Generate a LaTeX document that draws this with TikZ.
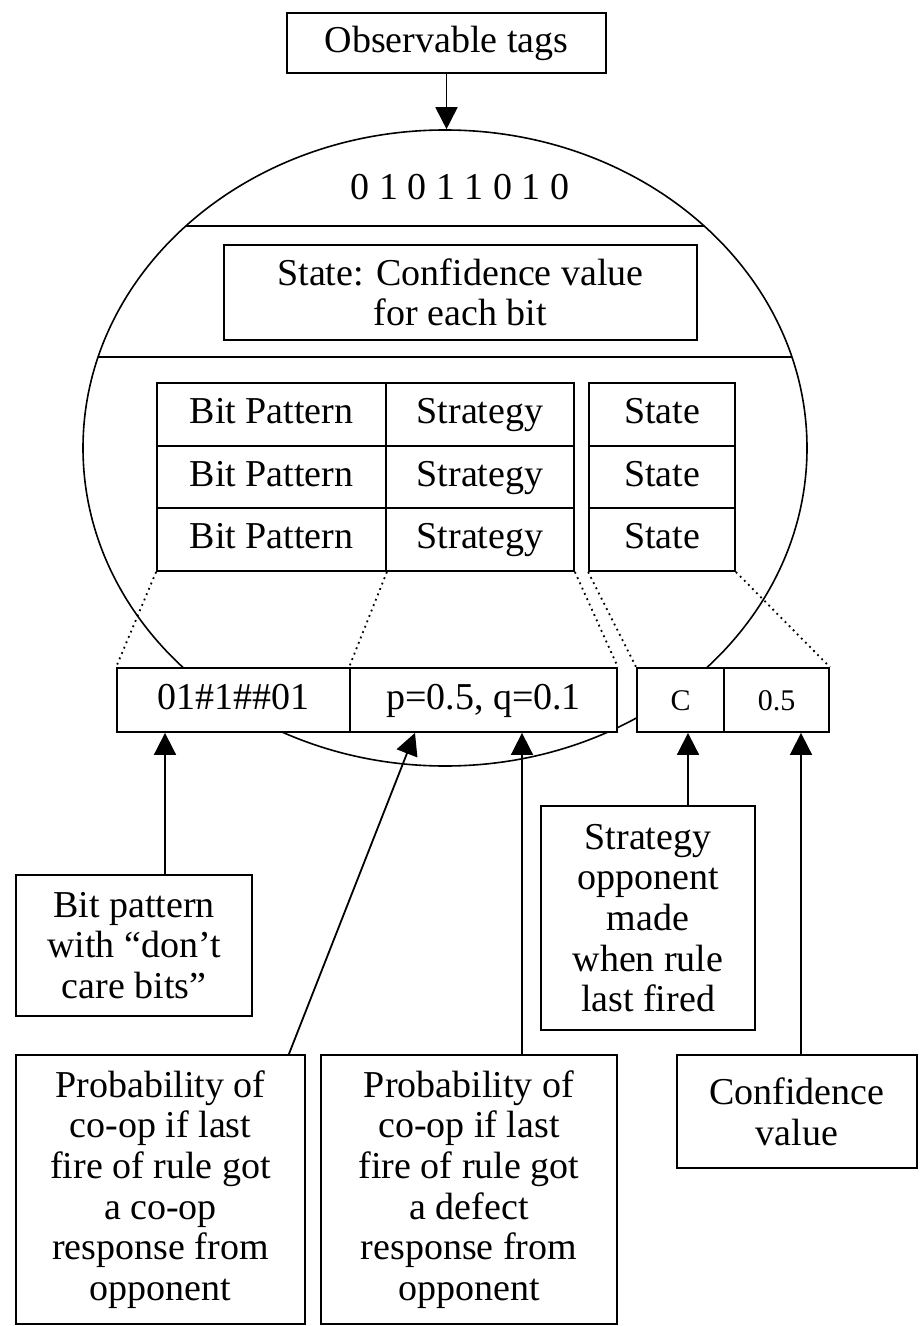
\documentclass[tikz,border=0pt]{standalone}
\usepackage{fontspec}
\setmainfont{Liberation Serif}
\usetikzlibrary{shapes.geometric, arrows.meta}

\begin{document}
\begin{tikzpicture}[
    x=0.5pt, y=-0.5pt,
    every node/.style={font=\fontsize{19}{20.3}\selectfont},
    box/.style={draw, line width=0.9pt, fill=white, inner sep=0pt, align=center},
    cellbox/.style={box, text height=13pt, text depth=4pt},
    small/.style={font=\fontsize{15}{17}\selectfont, text height=10.5pt, text depth=0pt},
    link/.style={line width=0.9pt, -{Triangle[width=11pt, length=11pt]}},
    guide/.style={dotted, line width=0.9pt}
]
    \useasboundingbox (0,0) rectangle (922,1326);

    % the rule, drawn as one big ellipse
    \node[ellipse, draw, line width=0.8pt, minimum width=362pt, minimum height=318pt, inner sep=0pt] (cell) at (445,448) {};
    \node[box, minimum width=159.5pt, minimum height=30pt] (tags) at (446.5,43) {Observable tags};
    \draw[link] (tags.south) -- (tags.south |- cell.north);

    \node (bits) at (460,187) {0 1 0 1 1 0 1 0};
    \draw[line width=0.9pt] (186,226) -- (704,226);
    \node[box, minimum width=236.5pt, minimum height=47.5pt] (state) at (460.5,292.5) {State: Confidence value\\for each bit};
    \draw[line width=0.9pt] (98,357) -- (792,357);

    % table of patterns
    \foreach \r/\y in {1/414.3, 2/477, 3/539.7} {
        \node[cellbox, minimum width=114.5pt, minimum height=31.35pt] (pat\r) at (271.5,\y) {Bit Pattern};
        \node[cellbox, minimum width=94pt, minimum height=31.35pt] (strat\r) at (480,\y) {Strategy};
        \node[cellbox, minimum width=73pt, minimum height=31.35pt] (st\r) at (662,\y) {State};
    }

    % one rule spelled out
    \node[cellbox, minimum width=116.5pt, minimum height=32pt] (rpat) at (233.5,700) {01\#1\#\#01};
    \node[cellbox, minimum width=133.5pt, minimum height=32pt] (rprob) at (483.5,700) {p=0.5, q=0.1};
    \node[box, small, minimum width=43.5pt, minimum height=32pt] (rc) at (680.5,700) {C};
    \node[box, small, minimum width=52.5pt, minimum height=32pt] (rconf) at (776.5,700) {0.5};

    \draw[guide] (pat3.south west) -- (rpat.north west);
    \draw[guide] (pat3.south east) -- (rprob.north west);
    \draw[guide] (strat3.south east) -- (rprob.north east);
    \draw[guide] (st3.south west) -- (rc.north west);
    \draw[guide] (st3.south east) -- (rconf.north east);

    % explanations
    \node[box, minimum width=118pt, minimum height=70.5pt] (dcare) at (134,945.5) {Bit pattern\\with “don’t\\care bits”};
    \node[box, minimum width=107pt, minimum height=112pt] (oppo) at (648,918) {Strategy\\opponent\\made\\when rule\\last fired};
    \node[box, minimum width=144.5pt, minimum height=134.5pt] (coop) at (160.5,1189.5) {Probability of\\co-op if last\\fire of rule got\\a co-op\\response from\\opponent};
    \node[box, minimum width=148pt, minimum height=134.5pt] (defect) at (469,1189.5) {Probability of\\co-op if last\\fire of rule got\\a defect\\response from\\opponent};
    \node[box, minimum width=120pt, minimum height=56.5pt] (conf) at (797,1111.5) {Confidence\\value};

    \coordinate (dtop) at ([xshift=15.5pt]dcare.north);
    \coordinate (ctop) at ([xshift=-8.5pt]coop.north east);
    \coordinate (cend) at ([xshift=-34.25pt]rprob.south);
    \coordinate (ftop) at ([xshift=26.5pt]defect.north);
    \coordinate (otop) at ([xshift=20pt]oppo.north);
    \coordinate (vtop) at ([xshift=2pt]conf.north);

    \draw[link] (dtop) -- (dtop |- rpat.south);
    \draw[link] (ctop) -- (cend);
    \draw[link] (ftop) -- (ftop |- rprob.south);
    \draw[link] (otop) -- (otop |- rc.south);
    \draw[link] (vtop) -- (vtop |- rconf.south);
\end{tikzpicture}
\end{document}
